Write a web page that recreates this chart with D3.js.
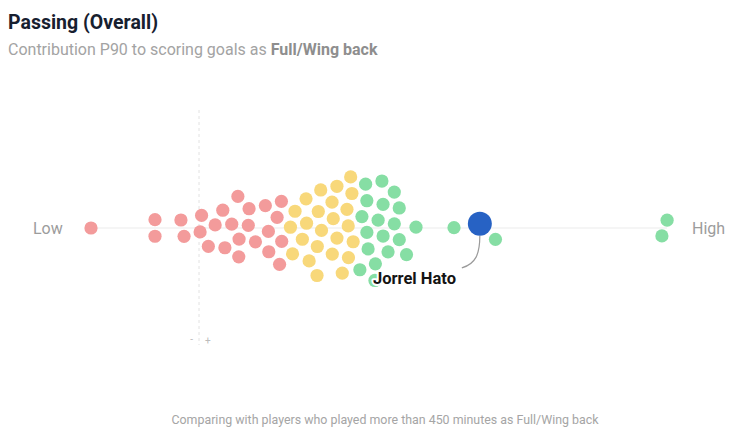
<!DOCTYPE html>
<html>
<head>
<meta charset="utf-8">
<script src="https://cdn.jsdelivr.net/npm/d3@7"></script>
<style>
  body { margin: 0; background: #fff; }
  svg { display: block; font-family: Roboto, "Noto Sans", sans-serif; }
</style>
</head>
<body>
<svg id="chart" width="750" height="443"></svg>
<script>
// ---- data (contribution P90) ----
const title = "Passing (Overall)";
const subtitlePlain = "Contribution P90 to scoring goals as ";
const subtitleBold = "Full/Wing back";
const footer = "Comparing with players who played more than 450 minutes as Full/Wing back";
const lowLabel = "Low";
const highLabel = "High";
const highlightName = "Jorrel Hato";
const highlightValue = 0.1405;

const redValues = [-0.054, -0.022, -0.022, -0.0075, -0.009, 0.0045, 0.0015, 0.0015, 0.0075,
  0.0165, 0.0245, 0.019, 0.012, 0.0155, 0.0235, 0.0195, 0.020, 0.0285, 0.035, 0.040,
  0.040, 0.0345, 0.042, 0.036, 0.039];
const yellowValues = [0.067, 0.077, 0.072, 0.045, 0.0525, 0.0625, 0.073, 0.0485, 0.0565,
  0.068, 0.053, 0.0615, 0.0695, 0.077, 0.058, 0.066, 0.0755, 0.046, 0.0535, 0.062,
  0.071, 0.078, 0.0585, 0.071];
const greenValues = [0.0845, 0.092, 0.100, 0.0805, 0.088, 0.0955, 0.080, 0.087, 0.0975,
  0.1085, 0.084, 0.0945, 0.1035, 0.082, 0.089, 0.0975, 0.092, 0.0825, 0.0945, 0.1275,
  0.148, 0.234, 0.2315];

const colors = { red: "#f39b9b", yellow: "#f8d87a", green: "#86dea4", blue: "#2762c4" };

// ---- layout ----
const svg = d3.select("#chart");
const cy = 228;
const r = 6.6;
const x = d3.scaleLinear().domain([-0.054, 0.234]).range([91, 667]);

// title
svg.append("text").attr("x", 8).attr("y", 29)
  .attr("font-size", 19.5).attr("font-weight", 700).attr("fill", "#17202f").text(title);
const st = svg.append("text").attr("x", 8).attr("y", 55)
  .attr("font-size", 16).attr("fill", "#a3a3a3");
st.append("tspan").text(subtitlePlain);
st.append("tspan").attr("font-weight", 700).attr("fill", "#8e8e8e").text(subtitleBold);

// center line
const allVals = redValues.concat(yellowValues, greenValues, [highlightValue]);
svg.append("line")
  .attr("x1", x(d3.min(allVals))).attr("x2", x(d3.max(allVals)))
  .attr("y1", cy).attr("y2", cy)
  .attr("stroke", "#ececec").attr("stroke-width", 1.2);

// zero dashed line
svg.append("line").attr("x1", x(0)).attr("x2", x(0)).attr("y1", 110).attr("y2", 345)
  .attr("stroke", "#e2e2e2").attr("stroke-width", 1).attr("stroke-dasharray", "3,3");
svg.append("text").attr("x", x(0) - 6).attr("y", 343).attr("text-anchor", "end")
  .attr("font-size", 10).attr("fill", "#bbb").text("-");
svg.append("text").attr("x", x(0) + 6).attr("y", 344).attr("text-anchor", "start")
  .attr("font-size", 10).attr("fill", "#bbb").text("+");

// low/high labels
svg.append("text").attr("x", 33).attr("y", cy + 6).attr("font-size", 16)
  .attr("fill", "#9c9c9c").text(lowLabel);
svg.append("text").attr("x", 692).attr("y", cy + 6).attr("font-size", 16)
  .attr("fill", "#9c9c9c").text(highLabel);

// nodes
const nodes = [];
redValues.forEach(v => nodes.push({ v, c: "red", r }));
yellowValues.forEach(v => nodes.push({ v, c: "yellow", r }));
greenValues.forEach(v => nodes.push({ v, c: "green", r }));
nodes.push({ v: highlightValue, c: "blue", r: 12, hl: true });
nodes.forEach((d, i) => { d.x = x(d.v); d.y = cy + ((i % 2) ? 1 : -1) * (i % 7); });

const sim = d3.forceSimulation(nodes)
  .force("x", d3.forceX(d => x(d.v)).strength(1))
  .force("y", d3.forceY(cy).strength(0.04))
  .force("collide", d3.forceCollide(d => d.r + 1.7).iterations(4))
  .stop();
for (let i = 0; i < 300; i++) sim.tick();

svg.append("g").selectAll("circle")
  .data(nodes.filter(d => !d.hl))
  .join("circle")
  .attr("cx", d => d.x).attr("cy", d => d.y).attr("r", d => d.r)
  .attr("fill", d => colors[d.c]);

const hl = nodes.find(d => d.hl);
// connector
const p = d3.path();
p.moveTo(hl.x, hl.y + hl.r);
p.bezierCurveTo(hl.x, hl.y + 30, hl.x - 4, hl.y + 40, hl.x - 18, hl.y + 44);
svg.append("path").attr("d", p.toString()).attr("fill", "none")
  .attr("stroke", "#9a9a9a").attr("stroke-width", 1.2);

svg.append("circle").attr("cx", hl.x).attr("cy", hl.y).attr("r", hl.r)
  .attr("fill", colors.blue);

svg.append("text").attr("x", 373).attr("y", 284)
  .attr("font-size", 16.5).attr("font-weight", 700).attr("fill", "#141414")
  .attr("stroke", "#fff").attr("stroke-width", 4).attr("paint-order", "stroke")
  .attr("stroke-linejoin", "round")
  .text(highlightName);

// footer
svg.append("text").attr("x", 385).attr("y", 424).attr("text-anchor", "middle")
  .attr("font-size", 12.4).attr("fill", "#a5a5a5").text(footer);
</script>
</body>
</html>
